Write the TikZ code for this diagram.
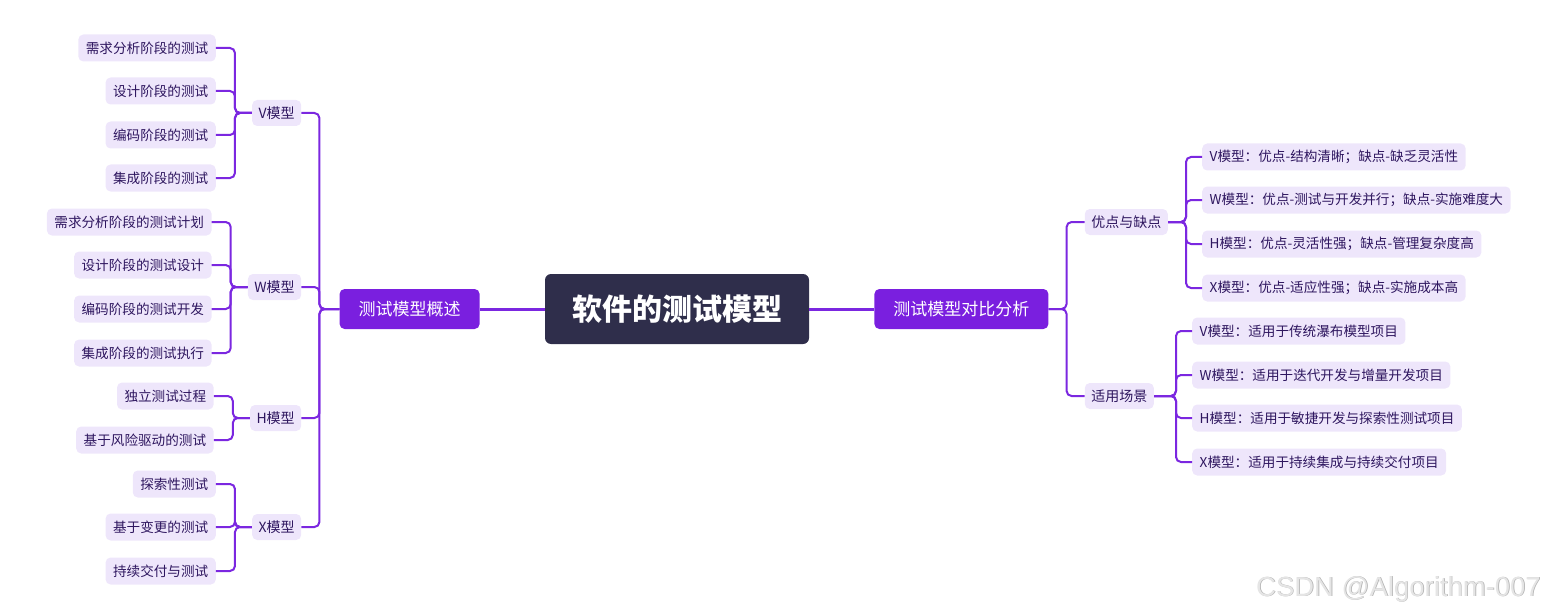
\documentclass[tikz,border=0pt]{standalone}
\usepackage{fontspec}
\newfontfamily\cjk{Noto Sans CJK SC}
\newfontfamily\wm{Liberation Sans}
\definecolor{rootc}{HTML}{2F2E4B}
\definecolor{mainc}{HTML}{7A1FDF}
\definecolor{linec}{HTML}{7B27E0}
\definecolor{leafc}{HTML}{EEE6FB}
\definecolor{textc}{HTML}{2E165F}
\begin{document}
\begin{tikzpicture}[x=1pt,y=-1pt,
  rootbox/.style={fill=rootc, rounded corners=6pt, text=white, font=\cjk\bfseries\fontsize{30}{34}\selectfont, minimum height=70pt, inner ysep=0pt, inner xsep=27pt},
  branch/.style={fill=mainc, rounded corners=5pt, text=white, font=\cjk\fontsize{17}{20}\selectfont, minimum height=40pt, inner ysep=0pt, inner xsep=19pt},
  sub/.style={fill=leafc, rounded corners=5pt, text=textc, font=\cjk\fontsize{14}{17}\selectfont, minimum height=26pt, inner ysep=0pt, inner xsep=6.5pt},
  leaf/.style={fill=leafc, rounded corners=5pt, text=textc, font=\cjk\fontsize{13.6}{16}\selectfont, minimum height=27pt, inner ysep=0pt, inner xsep=7.5pt},
  conn/.style={draw=linec, line width=2pt, rounded corners=5pt},
  rootconn/.style={draw=linec, line width=3pt}
]
\useasboundingbox (0,0) rectangle (1545,615);

% root and branches
\node[rootbox] (root) at (677,309) {软件的测试模型};
\node[branch, anchor=east] (B1) at ([xshift=-65pt]root.west) {测试模型概述};
\node[branch, anchor=west] (B2) at ([xshift=65pt]root.east) {测试模型对比分析};
\draw[rootconn] (root.west) -- (B1.east);
\draw[rootconn] (root.east) -- (B2.west);

% left level 2
\node[sub, anchor=east] (V) at ([xshift=-38pt]B1.west |- 0,113) {V模型};
\node[sub, anchor=east] (W) at ([xshift=-38pt]B1.west |- 0,287) {W模型};
\node[sub, anchor=east] (H) at ([xshift=-38pt]B1.west |- 0,418) {H模型};
\node[sub, anchor=east] (X) at ([xshift=-38pt]B1.west |- 0,527) {X模型};
\foreach \c in {V,W,H,X} \draw[conn] (B1.west) -- ++(-20,0) |- (\c.east);

% V leaves
\node[leaf, anchor=east] (V1) at ([xshift=-36pt]V.west |- 0,48) {需求分析阶段的测试};
\node[leaf, anchor=east] (V2) at ([xshift=-36pt]V.west |- 0,91) {设计阶段的测试};
\node[leaf, anchor=east] (V3) at ([xshift=-36pt]V.west |- 0,135) {编码阶段的测试};
\node[leaf, anchor=east] (V4) at ([xshift=-36pt]V.west |- 0,178) {集成阶段的测试};
\foreach \c in {V1,V2,V3,V4} \draw[conn] (V.west) -- ++(-17,0) |- (\c.east);

% W leaves
\node[leaf, anchor=east] (W1) at ([xshift=-36pt]W.west |- 0,222) {需求分析阶段的测试计划};
\node[leaf, anchor=east] (W2) at ([xshift=-36pt]W.west |- 0,265) {设计阶段的测试设计};
\node[leaf, anchor=east] (W3) at ([xshift=-36pt]W.west |- 0,309) {编码阶段的测试开发};
\node[leaf, anchor=east] (W4) at ([xshift=-36pt]W.west |- 0,353) {集成阶段的测试执行};
\foreach \c in {W1,W2,W3,W4} \draw[conn] (W.west) -- ++(-17,0) |- (\c.east);

% H leaves
\node[leaf, anchor=east] (H1) at ([xshift=-36pt]H.west |- 0,396) {独立测试过程};
\node[leaf, anchor=east] (H2) at ([xshift=-36pt]H.west |- 0,440) {基于风险驱动的测试};
\foreach \c in {H1,H2} \draw[conn] (H.west) -- ++(-17,0) |- (\c.east);

% X leaves
\node[leaf, anchor=east] (X1) at ([xshift=-36pt]X.west |- 0,484) {探索性测试};
\node[leaf, anchor=east] (X2) at ([xshift=-36pt]X.west |- 0,527) {基于变更的测试};
\node[leaf, anchor=east] (X3) at ([xshift=-36pt]X.west |- 0,571) {持续交付与测试};
\foreach \c in {X1,X2,X3} \draw[conn] (X.west) -- ++(-17,0) |- (\c.east);

% right level 2
\node[sub, anchor=west] (P) at ([xshift=36pt]B2.east |- 0,222) {优点与缺点};
\node[sub, anchor=west] (S) at ([xshift=36pt]B2.east |- 0,396) {适用场景};
\foreach \c in {P,S} \draw[conn] (B2.east) -- ++(18,0) |- (\c.west);

% P leaves
\node[leaf, anchor=west] (P1) at ([xshift=34pt]P.east |- 0,157) {V模型：优点-结构清晰；缺点-缺乏灵活性};
\node[leaf, anchor=west] (P2) at ([xshift=34pt]P.east |- 0,200) {W模型：优点-测试与开发并行；缺点-实施难度大};
\node[leaf, anchor=west] (P3) at ([xshift=34pt]P.east |- 0,244) {H模型：优点-灵活性强；缺点-管理复杂度高};
\node[leaf, anchor=west] (P4) at ([xshift=34pt]P.east |- 0,288) {X模型：优点-适应性强；缺点-实施成本高};
\foreach \c in {P1,P2,P3,P4} \draw[conn] (P.east) -- ++(18,0) |- (\c.west);

% S leaves
\node[leaf, anchor=west] (S1) at ([xshift=38pt]S.east |- 0,331) {V模型：适用于传统瀑布模型项目};
\node[leaf, anchor=west] (S2) at ([xshift=38pt]S.east |- 0,375) {W模型：适用于迭代开发与增量开发项目};
\node[leaf, anchor=west] (S3) at ([xshift=38pt]S.east |- 0,418) {H模型：适用于敏捷开发与探索性测试项目};
\node[leaf, anchor=west] (S4) at ([xshift=38pt]S.east |- 0,462) {X模型：适用于持续集成与持续交付项目};
\foreach \c in {S1,S2,S3,S4} \draw[conn] (S.east) -- ++(22,0) |- (\c.west);

% watermark
\node[anchor=east, text=black!32, inner sep=0pt] (wmA) at (1541.7,589.7) {\wm\fontsize{27.5}{32}\selectfont CSDN @Algorithm-007};
\node[anchor=east, text=black!10, inner sep=0pt] (wmB) at (1541,589) {\wm\fontsize{27.5}{32}\selectfont CSDN @Algorithm-007};
\end{tikzpicture}
\end{document}
